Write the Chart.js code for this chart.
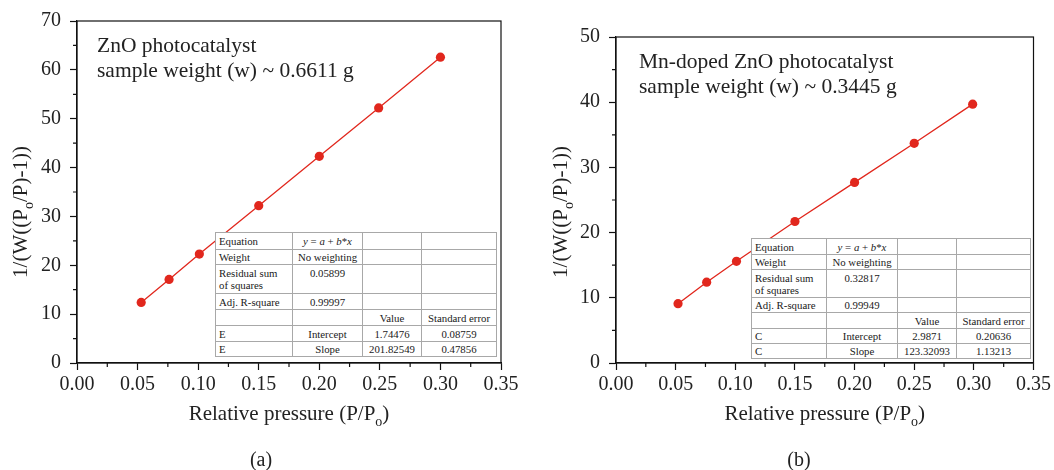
<!DOCTYPE html>
<html>
<head>
<meta charset="utf-8">
<script src="https://cdn.jsdelivr.net/npm/chart.js@4.4.1/dist/chart.umd.min.js"></script>
<style>
  body { margin: 0; background: #fff; font-family: "Liberation Serif", serif; }
  #wrap { position: relative; width: 1054px; height: 470px; overflow: hidden; }
  .panel { position: absolute; top: 0; width: 527px; height: 470px; }
  .fit { position: absolute; border-collapse: collapse; table-layout: fixed; background: #fff;
         font: 10.8px "Liberation Serif", serif; color: #1a1a1a; border: 1.8px solid #333; }
  .fit td { border: 1px solid #a8a8a8; padding: 0 3px; text-align: center; vertical-align: middle;
            line-height: 12px; white-space: nowrap; overflow: hidden; }
  .fit td:first-child { text-align: left; }
  .fit td.top { vertical-align: top; padding-top: 2px; }
</style>
</head>
<body>
<div id="wrap">
  <canvas id="chartA" class="panel" style="left:0" width="527" height="470"></canvas>
  <canvas id="chartB" class="panel" style="left:527px" width="527" height="470"></canvas>
</div>
<script>
// (a) ZnO
const pressureA = [0.053, 0.076, 0.101, 0.150, 0.200, 0.249, 0.300];
const bjetA = [12.4, 17.1, 22.3, 32.2, 42.3, 52.2, 62.6];
// (b) Mn-doped ZnO
const pressureB = [0.052, 0.076, 0.101, 0.150, 0.200, 0.250, 0.299];
const bjetB = [9.1, 12.4, 15.6, 21.7, 27.7, 33.7, 39.7];

const xTicks = [0, 0.35, 0.05];
const notesA = ['ZnO photocatalyst', 'sample weight (w) ~ 0.6611 g'];
const notesB = ['Mn-doped ZnO photocatalyst', 'sample weight (w) ~ 0.3445 g'];

const fitA = ['0.05899', '0.99997', 'E', '1.74476', '0.08759', '201.82549', '0.47856'];
const fitB = ['0.32817', '0.99949', 'C', '2.9871', '0.20636', '123.32093', '1.13213'];

const RED = '#e1271d';
const FONT = '"Liberation Serif", serif';

function drawRich(ctx, parts, x, y, size) {
  // parts: [text, isSub]
  const widths = parts.map(([t, sub]) => {
    ctx.font = (sub ? Math.round(size * 0.68) : size) + 'px ' + FONT;
    return ctx.measureText(t).width;
  });
  let cx = x - widths.reduce((a, b) => a + b, 0) / 2;
  parts.forEach(([t, sub], i) => {
    ctx.font = (sub ? Math.round(size * 0.68) : size) + 'px ' + FONT;
    ctx.fillText(t, cx, sub ? y + size * 0.3 : y);
    cx += widths[i];
  });
}

const decorations = {
  id: 'decorations',
  afterDraw(chart, args, o) {
    const {ctx, chartArea: a, scales} = chart;
    ctx.save();
    // frame
    ctx.strokeStyle = '#111';
    ctx.lineWidth = 1.2;
    ctx.strokeRect(a.left, a.top, a.right - a.left, a.bottom - a.top);
    // minor ticks
    ctx.beginPath();
    const xt = scales.x.ticks, yt = scales.y.ticks;
    for (let i = 0; i < xt.length - 1; i++) {
      const px = scales.x.getPixelForValue((xt[i].value + xt[i + 1].value) / 2);
      ctx.moveTo(px, a.bottom); ctx.lineTo(px, a.bottom + 4);
    }
    for (let i = 0; i < yt.length - 1; i++) {
      const py = scales.y.getPixelForValue((yt[i].value + yt[i + 1].value) / 2);
      ctx.moveTo(a.left, py); ctx.lineTo(a.left - 4, py);
    }
    ctx.stroke();

    ctx.fillStyle = '#222';
    ctx.textBaseline = 'alphabetic';
    // notes
    ctx.textAlign = 'left';
    ctx.font = '21.5px ' + FONT;
    o.notes.forEach((t, i) => ctx.fillText(t, a.left + o.noteX, o.noteY + i * 25));
    // x title
    drawRich(ctx, [['Relative pressure (P/P', false], ['o', true], [')', false]],
      (a.left + a.right) / 2, 420, 21);
    // y title
    ctx.translate(o.yTitleX, 212);
    ctx.rotate(-Math.PI / 2);
    drawRich(ctx, [['1/(W((P', false], ['o', true], ['/P)-1))', false]], 0, 7, 21);
    ctx.setTransform(1, 0, 0, 1, 0, 0);
    // caption
    ctx.font = '20px ' + FONT;
    ctx.textAlign = 'center';
    ctx.fillText(o.caption, o.captionX, 466);
    ctx.restore();
  }
};

function makeChart(id, xs, ys, yMax, lay) {
  const tickFont = {family: FONT, size: 20};
  return new Chart(document.getElementById(id), {
    type: 'scatter',
    data: {
      datasets: [{
        data: xs.map((x, i) => ({x, y: ys[i]})),
        showLine: true,
        borderColor: RED,
        borderWidth: 1.3,
        backgroundColor: RED,
        pointRadius: 4.6,
        pointBorderWidth: 0
      }]
    },
    options: {
      responsive: false,
      animation: false,
      devicePixelRatio: 1,
      layout: {padding: {top: lay.top, right: lay.right, left: 0, bottom: 0}},
      plugins: {
        legend: {display: false},
        tooltip: {enabled: false},
        decorations: lay.deco
      },
      scales: {
        x: {
          type: 'linear', min: xTicks[0], max: xTicks[1],
          afterFit: s => { s.height = 107; },
          ticks: {stepSize: xTicks[2], padding: 3, color: '#222', font: tickFont,
                  callback: v => v.toFixed(2), maxRotation: 0},
          grid: {drawOnChartArea: false, color: '#111', tickLength: 7, tickWidth: 1.2},
          border: {color: '#111', width: 1.2}
        },
        y: {
          type: 'linear', min: 0, max: yMax,
          afterFit: s => { s.width = lay.yWidth; },
          ticks: {stepSize: 10, padding: 9, color: '#222', font: tickFont},
          grid: {drawOnChartArea: false, color: '#111', tickLength: 7, tickWidth: 1.2},
          border: {color: '#111', width: 1.2}
        }
      }
    },
    plugins: [decorations]
  });
}

// fit result tables
function buildTable(vals, box, cols, rows) {
  const t = document.createElement('table');
  t.className = 'fit';
  Object.assign(t.style, {left: box[0] + 'px', top: box[1] + 'px', width: box[2] + 'px'});
  const eq = '<i>y</i> = <i>a</i> + <i>b</i>*<i>x</i>';
  const cells = [
    ['Equation', eq, '', ''],
    ['Weight', 'No weighting', '', ''],
    ['Residual sum<br>of squares', vals[0], '', ''],
    ['Adj. R-square', vals[1], '', ''],
    ['', '', 'Value', 'Standard error'],
    [vals[2], 'Intercept', vals[3], vals[4]],
    [vals[2], 'Slope', vals[5], vals[6]]
  ];
  const cg = document.createElement('colgroup');
  cols.forEach(w => { const c = document.createElement('col'); c.style.width = w + 'px'; cg.appendChild(c); });
  t.appendChild(cg);
  cells.forEach((r, ri) => {
    const tr = t.insertRow();
    tr.style.height = rows[ri] + 'px';
    r.forEach((c, ci) => {
      const td = tr.insertCell();
      td.innerHTML = c;
      if (ri === 2 && ci > 0) td.className = 'top';
    });
  });
  document.getElementById('wrap').appendChild(t);
}

function init() {
  makeChart('chartA', pressureA, bjetA, 70, {
    top: 19, right: 26, yWidth: 77,
    deco: {notes: notesA, noteX: 20, noteY: 52, yTitleX: 20, caption: '(a)', captionX: 261}
  });
  makeChart('chartB', pressureB, bjetB, 50, {
    top: 37, right: 18, yWidth: 89,
    deco: {notes: notesB, noteX: 23, noteY: 68, yTitleX: 33, caption: '(b)', captionX: 272}
  });
  buildTable(fitA, [215, 232, 281], [77, 70, 59, 75], [17, 15, 29, 16, 16, 16, 15]);
  buildTable(fitB, [751, 238, 279], [75, 71, 59, 74], [16, 15, 28, 15, 16, 15, 15]);
}

Promise.all([
  document.fonts.load('19px "Liberation Serif"'),
  document.fonts.load('italic 10px "Liberation Serif"')
]).then(init, init);
</script>
</body>
</html>
